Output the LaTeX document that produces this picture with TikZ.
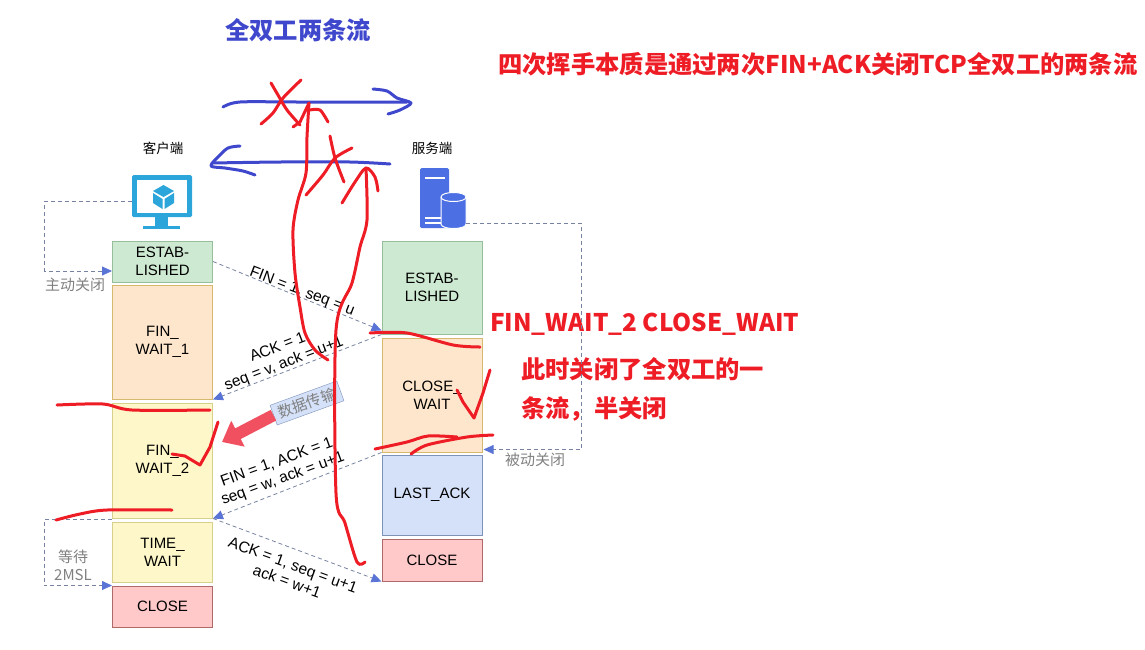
\documentclass[tikz,border=0pt]{standalone}
\usepackage{fontspec}
\setmainfont{Liberation Sans}
\newfontfamily\cjkfont{Noto Sans CJK SC}
\usetikzlibrary{arrows.meta,calc}
\definecolor{inkred}{HTML}{EE1C25}
\definecolor{inkblue}{HTML}{3F48CC}
\definecolor{monitorblue}{HTML}{2BA5DA}
\definecolor{serverblue}{HTML}{4C6FE3}
\definecolor{dashgray}{HTML}{76829F}
\definecolor{tipblue}{HTML}{5A74D6}
\tikzset{
    % State boxes
    statebox/.style={
        draw,
        line width=1pt,
        minimum width=100pt,
        inner sep=0pt,
        align=center,
        font=\fontsize{15}{18}\selectfont
    },
    greenbox/.style={statebox, draw={rgb,255:red,150;green,190;blue,155}, fill={rgb,255:red,205;green,233;blue,209}},
    orangebox/.style={statebox, draw={rgb,255:red,214;green,184;blue,110}, fill={rgb,255:red,254;green,230;blue,204}},
    yellowbox/.style={statebox, draw={rgb,255:red,214;green,208;blue,140}, fill={rgb,255:red,254;green,247;blue,201}},
    bluebox/.style={statebox, draw={rgb,255:red,125;green,145;blue,185}, fill={rgb,255:red,212;green,225;blue,248}},
    redbox/.style={statebox, draw={rgb,255:red,175;green,105;blue,105}, fill={rgb,255:red,255;green,201;blue,201}},
    % Client and server captions
    hostlabel/.style={
        font=\cjkfont\fontsize{13.5}{15}\selectfont
    },
    % Gray side notes
    sidenote/.style={
        font=\cjkfont\fontsize{15}{18.5}\selectfont,
        text=black!50,
        align=center
    },
    % Segment labels along the dashed arrows
    seglabel/.style={
        font=\fontsize{15.5}{17.5}\selectfont,
        align=center,
        inner sep=0pt
    },
    % Large handwritten style notes
    rednote/.style={
        font=\cjkfont\bfseries\fontsize{24.3}{28}\selectfont,
        text=inkred,
        anchor=west,
        inner sep=0pt
    },
    % Dashed arrows
    dasharrow/.style={
        -{Triangle[length=10pt,width=9pt,color=tipblue]},
        dashed,
        dash pattern=on 4pt off 3pt,
        line width=0.8pt,
        dashgray
    },
    % Freehand strokes
    scribble/.style={
        draw=inkred,
        line width=3pt,
        line cap=round,
        line join=round
    },
    bluescribble/.style={
        scribble,
        draw=inkblue
    }
}
\begin{document}
\begin{tikzpicture}[x=1pt,y=-1pt]
\useasboundingbox (0,0) rectangle (1145,649);

% ==================== NOTES ====================
\node[rednote, text=inkblue, anchor=center] (streamtitle) at (298,30) {全双工两条流};
\node[rednote] (summary) at (498,64) {四次挥手本质是通过两次FIN+ACK关闭TCP全双工的两条流};
\node[rednote] (statenote) at (490,324) {FIN\_WAIT\_2 CLOSE\_WAIT};
\node[rednote] (halfone) at (521,369) {此时关闭了全双工的一};
\node[rednote] (halftwo) at (521,409) {条流，半关闭};

% ==================== HOSTS ====================
\node[hostlabel] (clientlabel) at (163,148) {客户端};
\node[hostlabel] (serverlabel) at (432,148) {服务端};

% Client monitor
\node[minimum width=60pt, minimum height=56pt, inner sep=0pt] (clienticon) at (162,201) {};
\fill[monitorblue, rounded corners=1.5pt] (132,175) rectangle (192,217);
\fill[white] (137,180) rectangle (187,213);
\fill[monitorblue] (155,217) rectangle (168,226);
\fill[monitorblue] (143,226) rectangle (180,229);
\fill[monitorblue] (163.5,185) -- (174,191) -- (163.5,197) -- (153,191) -- cycle;
\fill[monitorblue] (153,193) -- (162.5,199) -- (162.5,209) -- (153,203) -- cycle;
\fill[monitorblue] (174,193) -- (164.5,199) -- (164.5,209) -- (174,203) -- cycle;

% Server and database
\node[minimum width=46pt, minimum height=60pt, inner sep=0pt] (servericon) at (443,198) {};
\fill[serverblue, rounded corners=1.5pt] (420,168) rectangle (449,228);
\fill[white] (425,177) rectangle (445,179);
\fill[white] (425,217) rectangle (441,219);
\fill[white] (425,222) rectangle (441,224);
\draw[white, fill=serverblue, line width=1pt] (441,197) .. controls (441,191) and (466,191) .. (466,197)
    -- (466,224) .. controls (466,230) and (441,230) .. (441,224) -- cycle;
\draw[white, line width=1pt] (441,197) .. controls (441,203) and (466,203) .. (466,197);

% ==================== CLIENT STATES ====================
\node[greenbox, minimum height=41pt] (cliestab) at (162.5,261.5) {ESTAB-\\LISHED};
\node[orangebox, minimum height=114pt] (clifinone) at (162.5,342) {FIN\_\\WAIT\_1};
\node[yellowbox, minimum height=115pt] (clifintwo) at (162.5,460.5) {FIN\_\\WAIT\_2};
\node[yellowbox, minimum height=60pt] (clitimewait) at (162.5,552) {TIME\_\\WAIT};
\node[redbox, minimum height=41pt] (cliclose) at (162.5,606.5) {CLOSE};

% ==================== SERVER STATES ====================
\node[greenbox, minimum height=93pt] (srvestab) at (432,287.5) {ESTAB-\\LISHED};
\node[orangebox, minimum height=114pt] (srvclosewait) at (432,395) {CLOSE\_\\WAIT};
\node[bluebox, minimum height=80pt] (srvlastack) at (432,495) {LAST\_ACK};
\node[redbox, minimum height=42pt] (srvclose) at (432,560) {CLOSE};

% ==================== SEGMENTS ====================
\draw[dasharrow] (cliestab.east) -- ($(srvestab.south west)+(0,-4)$);
\node[seglabel, rotate=-21] (finlabel) at (302,292) {FIN = 1, seq = u};

\draw[dasharrow] (srvestab.south west) -- (clifinone.south east);
\node[seglabel, rotate=21] (acklabel) at (281,356) {ACK = 1\\seq = v, ack = u+1};

\draw[dasharrow] (srvclosewait.south west) -- (clifintwo.south east);
\node[seglabel, rotate=20] (finacklabel) at (280,471) {FIN = 1, ACK = 1\\seq = w, ack = u+1};

\draw[dasharrow] (clifintwo.south east) -- (srvclose.south west);
\node[seglabel, rotate=-20] (lastacklabel) at (290,573) {ACK = 1, seq = u+1\\ack = w+1};

% ==================== SIDE LOOPS ====================
\draw[dasharrow] (clienticon.west) -- ++(-87,0) |- ($(cliestab.west)+(0,9.5)$);
\node[sidenote] (activeclose) at (75,285) {主动关闭};

\draw[dasharrow] ($(servericon.south east)+(0,-5)$) -- ++(115,0) |- ($(srvclosewait.south east)+(1,-3)$);
\node[sidenote] (passiveclose) at (535,460) {被动关闭};

\draw[dasharrow] ($(clitimewait.north west)+(0,-2)$) -- ++(-68,0) |- (cliclose.north west);
\node[sidenote] (waitnote) at (73,565) {等待\\2MSL};

% ==================== DATA TRANSFER ====================
\coordinate (datatip) at (222,442);
\node[draw={rgb,255:red,125;green,145;blue,185}, fill={rgb,255:red,212;green,225;blue,248}, minimum width=71pt, minimum height=21pt,
    inner sep=0pt, rotate=20, font=\cjkfont\fontsize{15}{16}\selectfont, text=black!50] (datalabel) at (307,403) {数据传输};
\draw[-{Triangle[length=18pt,width=28pt]}, line width=12pt, color={rgb,255:red,240;green,80;blue,95}] (datalabel.west) -- (datatip);

% ==================== BLUE STREAMS ====================
\draw[bluescribble] plot[smooth] coordinates {(223,107) (240,102) (300,102) (407,102)};
\draw[bluescribble] plot[smooth] coordinates {(373,89) (387,91) (397,98) (411,103) (400,110) (388,114)};
\draw[bluescribble] plot[smooth] coordinates {(390,164) (350,162) (280,162) (212,163)};
\draw[bluescribble] plot[smooth] coordinates {(240,146) (228,148) (218,157) (211,166) (225,168) (243,171) (255,175)};

% ==================== RED STROKES ====================
% First crossed stream
\draw[scribble] plot[smooth] coordinates {(271,83) (278,95) (287,110) (300,125)};
\draw[scribble] plot[smooth] coordinates {(301,80) (283,98) (273,113) (261,124)};
\draw[scribble] plot[smooth] coordinates {(328,360) (315,350) (305,333) (300,307) (295,273) (293,230) (298,200) (306,173) (307,137) (309,103)};
\draw[scribble] plot coordinates {(293,127) (300,122) (309,103)};
\draw[scribble] plot[smooth] coordinates {(310,110) (320,110) (328,122)};

% Second crossed stream
\draw[scribble] plot[smooth] coordinates {(330,136) (335,158) (344,182)};
\draw[scribble] plot[smooth] coordinates {(352,148) (335,158) (323,175) (306,195)};
\draw[scribble] plot[smooth] coordinates {(365,562) (357,562) (345,523) (336,493) (336,330) (352,283) (360,247) (367,220) (366,168)};
\draw[scribble] plot[smooth] coordinates {(342,203) (355,182) (366,168) (375,177) (378,191)};

% Boundaries and checks
\draw[scribble] plot[smooth] coordinates {(370,333) (407,333) (453,345) (480,347)};
\draw[scribble] plot coordinates {(457,390) (463,402) (474,418) (483,393) (490,370)};
\draw[scribble] plot[smooth] coordinates {(375,449) (407,442) (428,436) (457,437)};
\draw[scribble] plot[smooth] coordinates {(411,454) (427,445) (467,437) (493,435)};
\draw[scribble] plot[smooth] coordinates {(57,405) (103,404) (132,410) (210,410)};
\draw[scribble] plot coordinates {(172,454) (185,456) (200,465) (210,447) (218,422)};
\draw[scribble] plot[smooth] coordinates {(56,520) (80,514) (107,510) (172,510)};

\end{tikzpicture}
\end{document}
